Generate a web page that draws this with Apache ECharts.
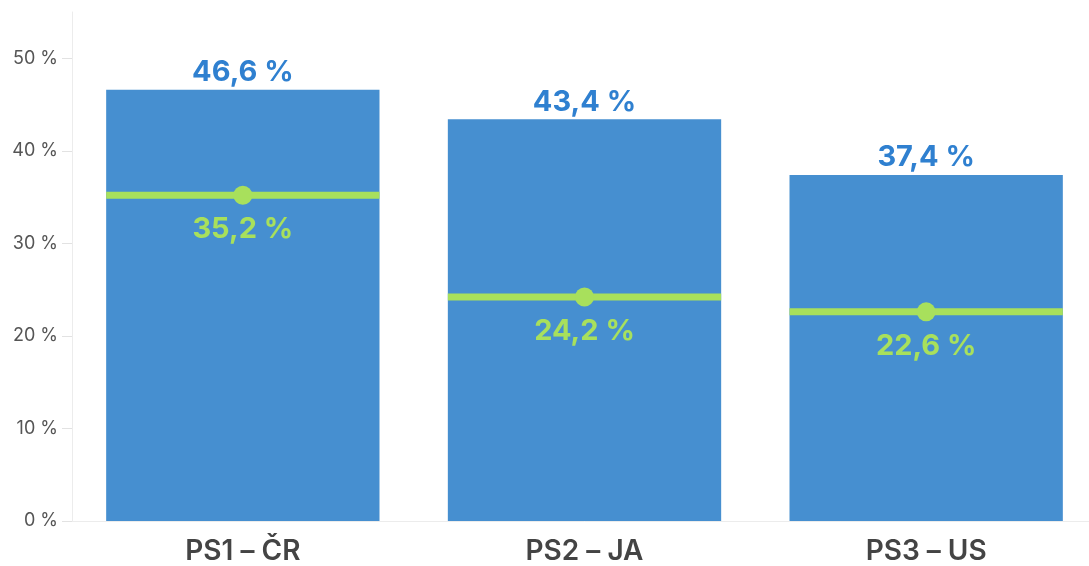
<!DOCTYPE html>
<html><head><meta charset="utf-8">
<script src="https://cdn.jsdelivr.net/npm/echarts@6/dist/echarts.min.js"></script>
<style>html,body{margin:0;padding:0;background:#fff;overflow:hidden}#c{width:1097px;height:566px}</style>
</head><body><div id="c"></div>
<script>
const categories = ['PS1 – ČR', 'PS2 – JA', 'PS3 – US'];
const barValues = [46.6, 43.4, 37.4];
const lineValues = [35.2, 24.2, 22.6];
const yTicks = [0, 10, 20, 30, 40, 50];

const fmt = v => v.toFixed(1).replace('.', ',') + ' %';
const BLUE = '#468FD0', BLUE_TXT = '#2F80D0', GREEN = '#A8E05C';
const FONT = 'Inter, "Noto Sans", sans-serif';

const chart = echarts.init(document.getElementById('c'));
chart.setOption({
  animation: false,
  grid: { left: 72, right: 0, top: 12, bottom: 44, containLabel: false },
  xAxis: {
    type: 'category', data: categories,
    axisLine: { lineStyle: { color: '#ececec', width: 1 } },
    axisTick: { alignWithLabel: true, length: 10, lineStyle: { color: '#e2e2e2' } },
    axisLabel: { color: '#444', fontSize: 28, fontWeight: 600, fontFamily: FONT, margin: 17 }
  },
  yAxis: {
    type: 'value', min: 0, max: 55, interval: 10,
    axisLine: { show: true, lineStyle: { color: '#ececec' } },
    axisTick: { show: true, length: 10, inside: false, customValues: yTicks, lineStyle: { color: '#e2e2e2' } },
    splitLine: { show: false },
    axisLabel: { color: '#555', fontSize: 18, fontFamily: FONT, margin: 14, customValues: yTicks,
      formatter: v => v + ' %' }
  },
  series: [
    {
      type: 'bar', data: barValues, barWidth: '80%',
      itemStyle: { color: BLUE },
      label: { show: true, position: 'top', distance: 3, color: BLUE_TXT, fontSize: 29, fontWeight: 'bold',
        fontFamily: FONT, formatter: p => fmt(p.value) }
    },
    {
      type: 'custom', data: lineValues.map((v, i) => [i, v]),
      encode: { x: 0, y: 1 },
      renderItem: (params, api) => {
        const p = api.coord([api.value(0), api.value(1)]);
        const bw = api.size([1, 0])[0] * 0.8;
        return { type: 'group', children: [
          { type: 'rect', shape: { x: p[0] - bw / 2, y: p[1] - 3.5, width: bw, height: 7 }, style: { fill: GREEN } },
          { type: 'circle', shape: { cx: p[0], cy: p[1], r: 9.5 }, style: { fill: GREEN } },
          { type: 'text', x: p[0], y: p[1] + 34, style: { text: fmt(api.value(1)), align: 'center', verticalAlign: 'middle',
            fill: GREEN, font: 'bold 29px ' + FONT } }
        ]};
      },
      z: 5
    }
  ]
});
</script></body></html>
